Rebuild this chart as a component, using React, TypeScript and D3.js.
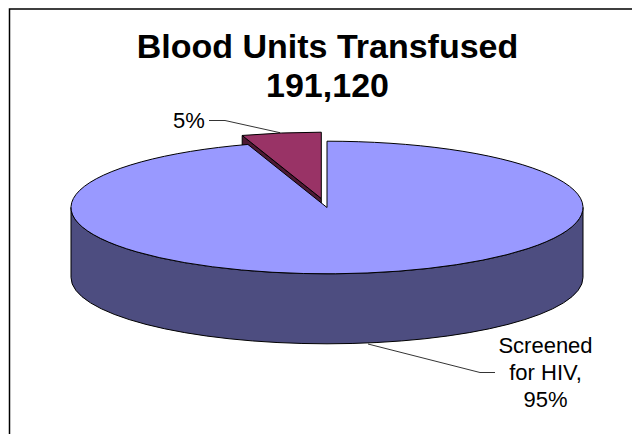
import React, { useEffect, useRef } from "react";
import * as d3 from "d3";

const categories = ["Screened for HIV", "Not screened"];
const shares = [95, 5];
const topColors = ["#9999ff", "#993366"];
const sideColors = ["#4d4d80", "#4d1933"];
const titleLines = ["Blood Units Transfused", "191,120"];
const mainLabel = ["Screened", "for HIV,", "95%"];
const smallLabel = "5%";

const FONT = "'Liberation Sans', Arial, sans-serif";

const App = () => {
  const ref = useRef<SVGSVGElement | null>(null);

  useEffect(() => {
    const svg = d3.select(ref.current);
    svg.selectAll("*").remove();

    const cx = 327;
    const cy = 207.5;
    const rx = 256;
    const ry = 66.3;
    const depth = 70;
    const pull = { x: -5.7, y: -9 }; // exploded slice offset

    // chart frame, only top and left are in the picture
    svg.append("path").attr("d", "M9.5,434V9H632").attr("fill", "none").attr("stroke", "#000").attr("stroke-width", 1.5);

    // 95% runs clockwise from 12 o'clock, the 5% closes the circle
    const pie = d3.pie<number>().sort(null);
    const arcs = pie(shares);

    const px = (a: number, ox = 0) => cx + ox + rx * Math.sin(a);
    const py = (a: number, oy = 0) => cy + oy - ry * Math.cos(a);

    const wedge = (a0: number, a1: number, ox = 0, oy = 0) => {
      const large = a1 - a0 > Math.PI ? 1 : 0;
      return `M${cx + ox},${cy + oy}L${px(a0, ox)},${py(a0, oy)}A${rx},${ry} 0 ${large} 1 ${px(a1, ox)},${py(a1, oy)}Z`;
    };

    const stroke = { color: "#000", width: 1 };

    // exploded slice: wall below the cut edge first, the main top covers the rest
    const small = arcs[1];
    const wall = [
      [px(small.startAngle, pull.x), py(small.startAngle, pull.y)],
      [px(small.startAngle, pull.x), py(small.startAngle, pull.y) + depth],
      [cx + pull.x, cy + pull.y + depth],
      [cx + pull.x, cy + pull.y],
    ];
    svg.append("path")
      .attr("d", d3.line()(wall as [number, number][]) + "Z")
      .attr("fill", sideColors[1])
      .attr("stroke", stroke.color)
      .attr("stroke-width", stroke.width);

    svg.append("path")
      .attr("d", wedge(small.startAngle, small.endAngle, pull.x, pull.y))
      .attr("fill", topColors[1])
      .attr("stroke", stroke.color)
      .attr("stroke-width", stroke.width)
      .attr("stroke-linejoin", "miter");

    // main slice side, the front half of the ellipse extruded down
    const front0 = Math.PI / 2;
    const front1 = (3 * Math.PI) / 2;
    svg.append("path")
      .attr("d", `M${px(front0)},${py(front0)}L${px(front0)},${py(front0) + depth}A${rx},${ry} 0 0 1 ${px(front1)},${py(front1) + depth}L${px(front1)},${py(front1)}A${rx},${ry} 0 0 0 ${px(front0)},${py(front0)}Z`)
      .attr("fill", sideColors[0])
      .attr("stroke", stroke.color)
      .attr("stroke-width", stroke.width);

    const main = arcs[0];
    svg.append("path")
      .attr("d", wedge(main.startAngle, main.endAngle))
      .attr("fill", topColors[0])
      .attr("stroke", stroke.color)
      .attr("stroke-width", stroke.width)
      .attr("data-name", categories[0]);

    // leader lines
    const leader = d3.line();
    svg.append("path")
      .attr("d", leader([[209, 120.5], [225, 120.5], [280, 132.7]]))
      .attr("fill", "none").attr("stroke", "#000").attr("stroke-width", 0.8);
    svg.append("path")
      .attr("d", leader([[368, 344], [480, 372.5], [495, 372.5]]))
      .attr("fill", "none").attr("stroke", "#000").attr("stroke-width", 0.8);

    // title
    svg.append("g").selectAll("text").data(titleLines).enter().append("text")
      .attr("x", 327.5)
      .attr("y", (d, i) => 57.5 + i * 39)
      .attr("text-anchor", "middle")
      .attr("font-family", FONT)
      .attr("font-weight", "bold")
      .attr("font-size", 34)
      .text((d) => d);

    // labels
    svg.append("g").selectAll("text").data(mainLabel).enter().append("text")
      .attr("x", 545.5)
      .attr("y", (d, i) => 353 + i * 27)
      .attr("text-anchor", "middle")
      .attr("font-family", FONT)
      .attr("font-size", 22)
      .text((d) => d);

    svg.append("text")
      .attr("x", 173)
      .attr("y", 127.5)
      .attr("font-family", FONT)
      .attr("font-size", 22)
      .text(smallLabel);
  }, []);

  return (
    <svg
      ref={ref}
      width={632}
      height={434}
      style={{ position: "absolute", left: 0, top: 0, background: "#fff" }}
    />
  );
};

export default App;
